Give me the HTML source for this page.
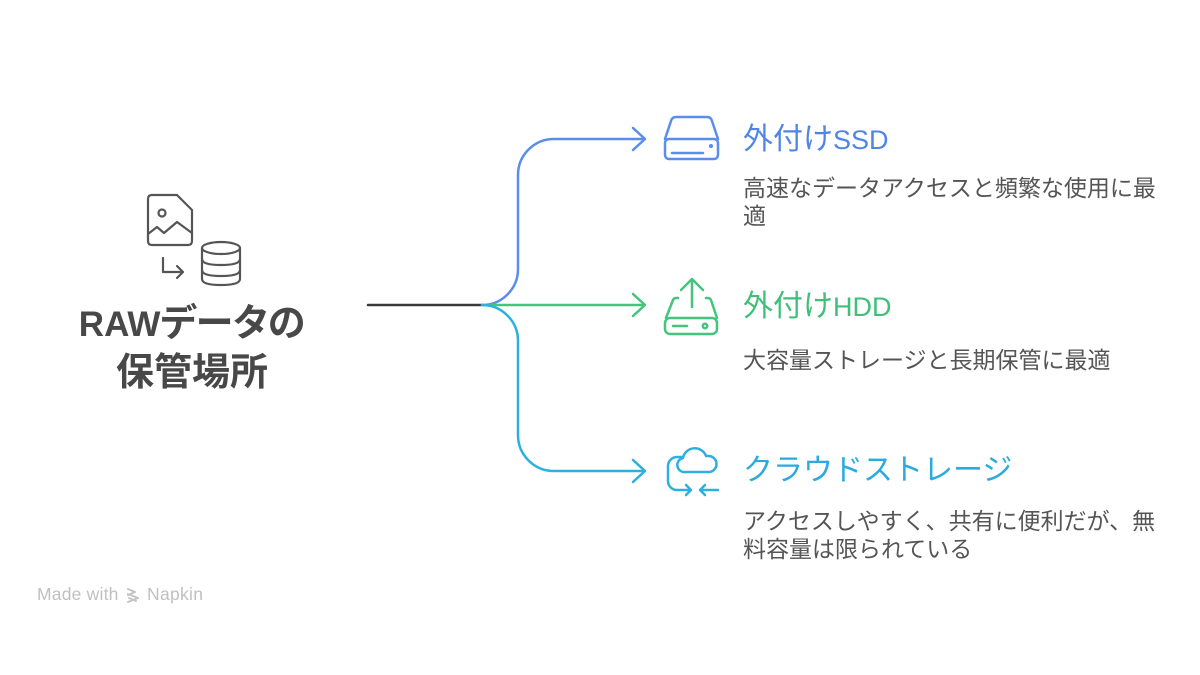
<!DOCTYPE html>
<html><head><meta charset="utf-8">
<style>
html,body{margin:0;padding:0;background:#fff;}
body{width:1200px;height:675px;position:relative;overflow:hidden;font-family:"Liberation Sans","Noto Sans CJK JP",sans-serif;}
.t{position:absolute;white-space:nowrap;}
.h{font-size:30px;line-height:36px;}
.d{font-size:23px;line-height:27.5px;color:#555;width:430px;white-space:normal;}
</style></head>
<body>
<svg width="1200" height="675" style="position:absolute;left:0;top:0" fill="none" stroke-linecap="round" stroke-linejoin="round">
  <!-- left icon -->
  <g stroke="#555" stroke-width="2.2">
    <path d="M152,195 H177 L192,210 V241 Q192,245 188,245 H152 Q148,245 148,241 V199 Q148,195 152,195 Z"/>
    <circle cx="162" cy="213" r="3.5"/>
    <path d="M148,234 L157,227 L164,233 L177,222 L192,233"/>
    <path d="M163,258 V272 H183 M177,266 L183,272 L177,278"/>
    <ellipse cx="221" cy="248" rx="19" ry="6"/>
    <path d="M202,248 V279 Q202,285 221,285 Q240,285 240,279 V248"/>
    <path d="M202,259 Q202,265 221,265 Q240,265 240,259"/>
    <path d="M202,270 Q202,276 221,276 Q240,276 240,270"/>
  </g>
  <!-- connectors -->
  <path d="M368,305 H482" stroke="#3a3a3a" stroke-width="2.5"/>
  <path d="M482,305 A36,36 0 0 0 518,269 V175 A36,36 0 0 1 554,139 H644 M633,128 L645,139 L633,150" stroke="#5a8ded" stroke-width="2.5"/>
  <path d="M482,305 H644 M633,294 L645,305 L633,316" stroke="#45c47e" stroke-width="2.5"/>
  <path d="M482,305 A36,36 0 0 1 518,341 V435 A36,36 0 0 0 554,471 H644 M633,460 L645,471 L633,482" stroke="#2db0e0" stroke-width="2.5"/>
  <!-- SSD icon -->
  <g stroke="#5a8ded" stroke-width="2.5">
    <path d="M665,139 L671,121 Q672,117 676,117 L707,117 Q711,117 712,121 L718,139"/>
    <rect x="665" y="139" width="53" height="20" rx="4"/>
    <path d="M672,153 H703"/>
    <circle cx="711" cy="146" r="0.8" fill="#5a8ded"/>
  </g>
  <!-- HDD icon -->
  <g stroke="#45c47e" stroke-width="2.5">
    <path d="M692,307 V279 M681,290 L692,279 L703,290"/>
    <path d="M678,298 H676 Q674,298 673,300 L666,318"/>
    <path d="M706,298 H708 Q710,298 711,300 L717,318"/>
    <rect x="665" y="318" width="52" height="16" rx="5"/>
    <path d="M673,326 H687"/>
    <circle cx="705" cy="326" r="2.2"/>
  </g>
  <!-- Cloud icon -->
  <g stroke="#2db0e0" stroke-width="2.5">
    <path d="M686,472 H708 A8,8 0 0 0 709,456 H706 A12,12 0 0 0 683,458 A7,7 0 0 0 686,472 Z"/>
    <path d="M682,457 H677 A9,9 0 0 0 668,466 V481 A9,9 0 0 0 677,490 H691 M686,485 L691,490 L686,495"/>
    <path d="M718,490 H700 M705,485 L700,490 L705,495"/>
  </g>
  <!-- napkin logo -->
  <g stroke="#c4c4c4" stroke-width="2">
    <path d="M128,589 L135,592 L128,595 M128,594 L138,598 L128,602 M129,598 L136,601"/>
  </g>
</svg>

<div class="t" style="left:42px;top:300px;width:300px;text-align:center;font-size:38px;line-height:48px;font-weight:bold;color:#484848;white-space:normal;">
<span style="font-size:35px">RAW</span><span style="font-feature-settings:'palt';">データの</span><br>保管場所</div>

<div class="t h" style="left:743px;top:122px;color:#4f86e6;">外付け<span style="font-size:27px">SSD</span></div>
<div class="t d" style="left:743px;top:175px;">高速なデータアクセスと頻繁な使用に最適</div>

<div class="t h" style="left:743px;top:289px;color:#3fbf78;">外付け<span style="font-size:27px">HDD</span></div>
<div class="t d" style="left:743px;top:347px;">大容量ストレージと長期保管に最適</div>

<div class="t h" style="left:743px;top:453px;color:#2aaae0;">クラウドストレージ</div>
<div class="t d" style="left:743px;top:508px;">アクセスしやすく、共有に便利だが、無料容量は限られている</div>

<div class="t" style="left:37px;top:584px;font-size:17.5px;line-height:20px;color:#c0c0c0;letter-spacing:0.2px;">Made with</div>
<div class="t" style="left:147px;top:584px;font-size:17.5px;line-height:20px;color:#c0c0c0;letter-spacing:0.3px;">Napkin</div>
</body></html>
